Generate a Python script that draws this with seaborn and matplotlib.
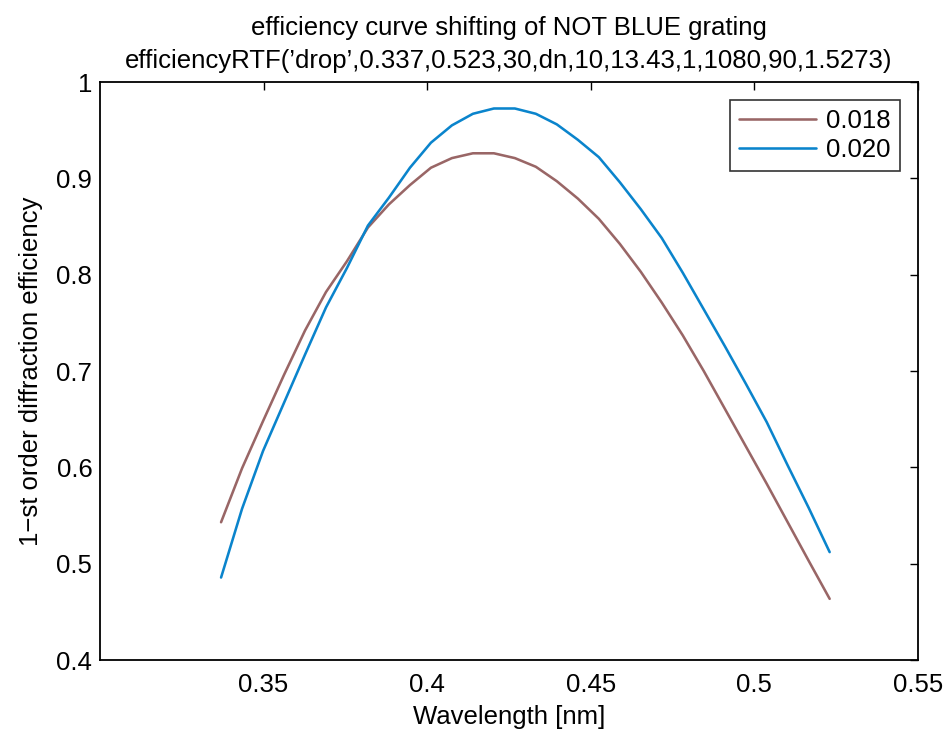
import numpy as np
import pandas as pd
import matplotlib
matplotlib.use("Agg")
import matplotlib.pyplot as plt
import seaborn as sns
from matplotlib.lines import Line2D

# ---- data ----
wavelength = np.linspace(0.337, 0.523, 30)
eff_018 = [0.543, 0.599, 0.648, 0.696, 0.742, 0.782, 0.814, 0.849, 0.873, 0.893,
           0.911, 0.921, 0.926, 0.926, 0.921, 0.912, 0.897, 0.879, 0.858, 0.832,
           0.803, 0.771, 0.737, 0.700, 0.661, 0.622, 0.583, 0.543, 0.503, 0.4635]
eff_020 = [0.4856, 0.557, 0.617, 0.667, 0.717, 0.766, 0.807, 0.851, 0.880, 0.911,
           0.937, 0.955, 0.967, 0.9725, 0.9725, 0.967, 0.956, 0.940, 0.922, 0.896,
           0.868, 0.838, 0.802, 0.764, 0.726, 0.687, 0.647, 0.602, 0.558, 0.512]
series_labels = ["0.018", "0.020"]
series_colors = ["#996666", "#0a84cc"]
x_ticks = [0.35, 0.4, 0.45, 0.5, 0.55]
x_ticklabels = ["0.35", "0.4", "0.45", "0.5", "0.55"]
y_ticks = [0.4, 0.5, 0.6, 0.7, 0.8, 0.9, 1.0]
y_ticklabels = ["0.4", "0.5", "0.6", "0.7", "0.8", "0.9", "1"]
title_text = ("efficiency curve shifting of NOT BLUE grating\n"
              "efficiencyRTF(\u2019drop\u2019,0.337,0.523,30,dn,10,13.43,1,1080,90,1.5273)")

df = pd.concat([
    pd.DataFrame({"wavelength": wavelength, "eff": eff_018, "dn": series_labels[0]}),
    pd.DataFrame({"wavelength": wavelength, "eff": eff_020, "dn": series_labels[1]}),
], ignore_index=True)

sns.set_theme(style="white")
plt.rcParams['font.family'] = ['Liberation Sans', 'DejaVu Sans']
plt.rcParams['axes.unicode_minus'] = True
plt.rcParams['text.color'] = 'black'
plt.rcParams['axes.labelcolor'] = 'black'
plt.rcParams['xtick.color'] = 'black'
plt.rcParams['ytick.color'] = 'black'

fig = plt.figure(figsize=(9.48, 7.3), dpi=100)
ax = fig.add_axes([100/948, 70/730, 818/948, 578/730])

sns.lineplot(data=df, x="wavelength", y="eff", hue="dn",
             palette=dict(zip(series_labels, series_colors)),
             linewidth=1.85, ax=ax, legend=False, estimator=None, sort=False)

ax.set_xlim(0.3, 0.55)
ax.set_ylim(0.4, 1.0)
ax.set_xticks(x_ticks)
ax.set_xticklabels(x_ticklabels)
ax.set_yticks(y_ticks)
ax.set_yticklabels(y_ticklabels)
ax.tick_params(direction="in", length=6, width=1, colors="black",
               labelsize=18.5, top=True, right=True)
ax.tick_params(axis="x", pad=9)
ax.tick_params(axis="y", pad=5.5)
for s in ax.spines.values():
    s.set_visible(True)
    s.set_color("black")
    s.set_linewidth(1.3)

ax.set_xlabel("Wavelength [nm]", fontsize=18.5, labelpad=6, color="black")
ax.set_ylabel("1\u2212st order diffraction efficiency", fontsize=18.5,
              labelpad=10, color="black")
ax.set_title(title_text, fontsize=18.5, pad=10, linespacing=1.5, color="black")

handles = [Line2D([0], [0], color=c, lw=1.85) for c in series_colors]
leg = ax.legend(handles, series_labels, loc="upper right", fontsize=18.5,
                frameon=True, fancybox=False, edgecolor="black",
                handlelength=3.0, handletextpad=0.4, borderpad=0.35,
                labelspacing=0.2, borderaxespad=0.7)
leg.get_frame().set_linewidth(1.2)
for t in leg.get_texts():
    t.set_color("black")

fig.savefig("out.png", dpi=100, facecolor="white")
